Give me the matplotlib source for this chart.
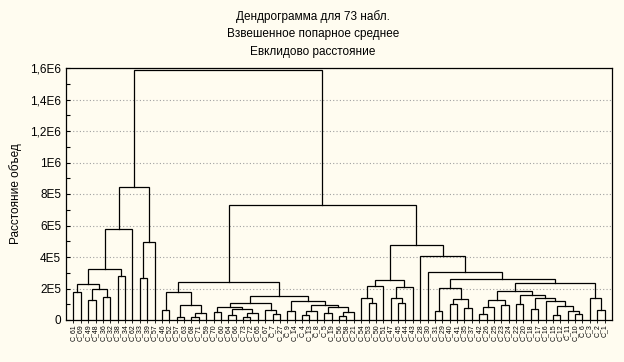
import matplotlib
matplotlib.use("Agg")
import matplotlib.pyplot as plt
from matplotlib.ticker import MultipleLocator

title_lines = ["Дендрограмма для 73 набл.", "Взвешенное попарное среднее", "Евклидово расстояние"]
y_label = "Расстояние объед"
y_ticks = [0, 2e5, 4e5, 6e5, 8e5, 1e6, 1.2e6, 1.4e6, 1.6e6]
y_tick_labels = ["0", "2E5", "4E5", "6E5", "8E5", "1E6", "1,2E6", "1,4E6", "1,6E6"]

leaf_labels = [
    "C_61", "C_69", "C_49", "C_48", "C_36", "C_32", "C_38", "C_34", "C_62", "C_33", "C_39", "C_57",
    "C_46", "C_52", "C_57", "C_63", "C_68", "C_71", "C_59", "C_70", "C_60", "C_64", "C_66", "C_73",
    "C_72", "C_65", "C_67", "C_7", "C_27", "C_9", "C_14", "C_4", "C_13", "C_8", "C_5", "C_19",
    "C_56", "C_58", "C_21", "C_54", "C_53", "C_50", "C_51", "C_47", "C_45", "C_44", "C_43", "C_28",
    "C_30", "C_31", "C_29", "C_40", "C_41", "C_35", "C_37", "C_42", "C_26", "C_25", "C_23", "C_24",
    "C_22", "C_20", "C_18", "C_17", "C_16", "C_15", "C_12", "C_11", "C_10", "C_6", "C_3", "C_2", "C_1",
]

# tree: (height, left, right); ints are leaf positions in display order
left_cluster = (842e3,
                (576e3,
                 (326e3,
                  (231e3, (176e3, 0, 1), (195e3, (127e3, 2, 3), (144e3, 4, 5))),
                  (277e3, 6, 7)),
                 8),
                (495e3, (264e3, 9, 10), 11))

mid_cluster = (243e3,
               (176e3, (61e3, 12, 13),
                (93e3, (19e3, 14, 15), (45e3, (20e3, 16, 17), 18))),
               (152e3,
                (106e3,
                 (80e3, (50e3, 19, 20), (70e3, (30e3, 21, 22), (45e3, (20e3, 23, 24), 25))),
                 (65e3, 26, (40e3, 27, 28))),
                (123e3, (55e3, 29, 30),
                 (95e3, (60e3, (30e3, 31, 32), 33),
                  (80e3, (45e3, 34, 35), (50e3, (25e3, 36, 37), 38))))))

right_cluster = (476e3,
                 (254e3,
                  (216e3, (142e3, 39, (110e3, 40, 41)), 42),
                  (207e3, (137e3, 43, (110e3, 44, 45)), 46)),
                 (406e3, 47,
                  (303e3, 48,
                   (258e3,
                    (205e3, (60e3, 49, 50), (135e3, (100e3, 51, 52), (75e3, 53, 54))),
                    (233e3,
                     (186e3,
                      (125e3, (80e3, (40e3, 55, 56), 57), (95e3, 58, 59)),
                      (160e3, (100e3, 60, 61),
                       (140e3, (70e3, 62, 63),
                        (120e3, 64, (90e3, (30e3, 65, 66), (60e3, 67, (40e3, 68, 69))))))),
                     (137e3, 70, (63e3, 71, 72)))))))

root = (1590e3, left_cluster, (730e3, mid_cluster, right_cluster))

bg = "#FFFCF0"
fig = plt.figure(figsize=(6.24, 3.62), dpi=100, facecolor=bg)
ax = fig.add_axes([66 / 624, 1 - 320 / 362, (612 - 66) / 624, (320 - 68) / 362])
ax.set_facecolor(bg)

def draw(node):
    if isinstance(node, int):
        return float(node), 0.0
    h, l, r = node
    xl, hl = draw(l)
    xr, hr = draw(r)
    ax.plot([xl, xl, xr, xr], [hl, h, h, hr], color="black", lw=0.9, solid_joinstyle="miter")
    return (xl + xr) / 2, h

draw(root)
ax.set_xlim(-1, 73)
ax.set_ylim(0, 1.6e6)
ax.set_yticks(y_ticks)
ax.set_yticklabels(y_tick_labels, fontsize=8.5, family="Liberation Sans")
ax.yaxis.set_minor_locator(MultipleLocator(1e5))
ax.tick_params(axis="y", which="both", direction="in", length=3, width=0.8)
ax.set_xticks(range(len(leaf_labels)))
ax.set_xticklabels(leaf_labels, rotation=90, fontsize=5.0, family="Liberation Sans")
ax.tick_params(axis="x", direction="out", length=2, width=0.6, pad=1)
ax.grid(axis="y", linestyle=(0, (1, 2)), color="#a0a0a0", lw=0.8)
ax.set_axisbelow(True)
for s in ax.spines.values():
    s.set_linewidth(0.9)
ax.set_ylabel(y_label, fontsize=8.5, family="Liberation Sans", labelpad=6)
for i, t in enumerate(title_lines):
    fig.text(313 / 624, 1 - (17 + 17.5 * i) / 362, t, ha="center", va="center", fontsize=8.5, family="Liberation Sans")
fig.savefig("out.png", dpi=100, facecolor=bg)
